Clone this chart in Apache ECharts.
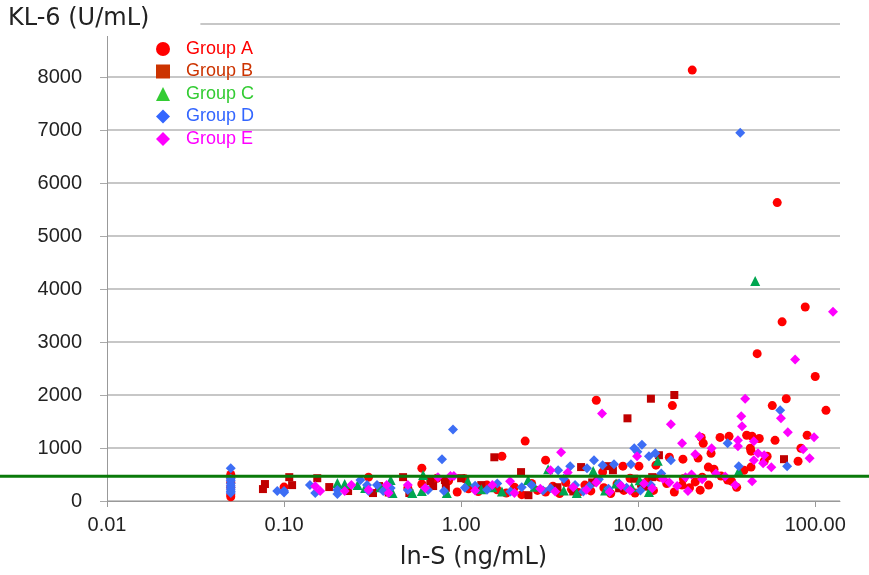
<!DOCTYPE html>
<html>
<head>
<meta charset="utf-8">
<script src="https://cdn.jsdelivr.net/npm/echarts@6/dist/echarts.min.js"></script>
<style>
  html, body { margin: 0; padding: 0; background: #fff; }
  #chart { width: 869px; height: 575px; }
</style>
</head>
<body>
<div id="chart"></div>
<script>
// x = ln-S (ng/mL), y = KL-6 (U/mL)
const groupNames = ['Group A', 'Group B', 'Group C', 'Group D', 'Group E']

const groupA = [
  [20.2, 8130], [61, 5630], [87.8, 3660], [65, 3380], [47, 2780], [100, 2350], [115, 1710],
  [68.6, 1930], [57.2, 1800], [90, 1240], [59.3, 1145], [83, 995], [80, 750],
  [5.8, 1900], [15.6, 1800], [2.3, 1130], [1.7, 845], [3.0, 770],
  [22.7, 1200], [23.3, 1090], [29, 1200], [32.6, 1220], [41, 1240], [44, 1220], [48.3, 1180],
  [43, 995], [43.4, 940], [53.5, 845], [51.5, 750], [43.4, 640], [39.6, 580],
  [25.8, 900], [24.9, 640], [26.8, 600], [29.4, 470], [32, 395], [33.7, 375], [22.4, 205],
  [17.7, 300], [17.9, 790], [21.8, 810], [15, 826], [12.6, 676], [10.1, 657], [8.2, 657], [6.3, 545],
  [0.6, 620], [0.73, 430], [0.3, 450], [0.5, 244], [0.6, 320], [0.1, 263],
  [0.05, 500], [0.05, 440], [0.05, 350], [0.05, 260], [0.05, 120], [0.05, 80],
  [1.1, 230], [1.25, 180], [1.4, 300], [1.6, 210], [1.8, 150], [2.0, 260], [2.2, 120],
  [2.5, 330], [2.7, 200], [3.0, 170], [3.3, 280], [3.6, 140], [3.9, 350], [4.2, 220],
  [4.6, 160], [5.0, 300], [5.4, 190], [5.9, 400], [6.4, 250], [7.0, 140], [7.6, 320],
  [8.3, 200], [9.0, 430], [9.6, 150], [10.5, 280], [11.3, 380], [12.2, 200], [13.2, 450],
  [14.5, 330], [16, 170], [18, 420], [19.5, 250], [21, 360], [23, 450], [25, 300], [36, 260],
  [0.85, 380], [0.95, 170], [1.05, 420]
]

const groupB = [
  [11.8, 1930], [16, 2000], [8.7, 1560], [1.54, 825], [2.18, 545], [0.81, 395],
  [0.076, 225], [0.078, 320], [0.107, 450], [0.111, 300], [0.154, 430], [0.18, 263],
  [0.23, 188], [0.318, 150], [0.344, 282], [0.47, 450], [0.51, 150], [0.67, 375], [0.695, 282],
  [4.76, 640], [6.77, 657], [7.2, 580], [13.1, 864], [66.6, 789],
  [0.38, 200], [1.3, 300], [2.4, 110], [3.5, 260], [4.3, 180], [5.5, 350], [7.8, 240],
  [9.5, 420], [10.4, 330], [11, 270], [1.0, 430], [0.82, 250], [0.39, 160], [12, 450]
]

const groupC = [
  [45.8, 4150], [12.9, 760], [3.1, 600], [5.57, 565], [37, 565],
  [0.2, 338], [0.22, 320], [0.287, 244], [0.40, 394], [0.41, 150], [0.53, 150],
  [0.61, 490], [0.6, 190], [0.83, 150], [1.09, 375], [2.39, 394],
  [1.3, 220], [1.7, 180], [2.6, 270], [3.8, 200], [4.5, 150], [6.5, 200], [7.5, 330],
  [9.2, 260], [11.5, 170], [10.2, 390], [0.26, 300], [0.35, 260], [1.5, 260]
]

const groupD = [
  [37.7, 6950], [0.9, 1350], [0.78, 790], [63.4, 1710], [32, 1089], [69.4, 657], [37, 657],
  [9.5, 995], [10.5, 1060], [9.9, 930], [11.5, 845], [12.5, 900], [15.3, 770],
  [5.63, 770], [4.13, 657], [3.53, 582], [6.3, 676], [7.3, 695], [9.1, 695], [5.14, 620],
  [0.05, 620], [0.05, 420], [0.05, 380], [0.05, 330], [0.05, 290], [0.05, 250],
  [0.05, 210], [0.05, 180], [0.05, 150],
  [0.0915, 188], [0.1, 188], [0.1, 160], [0.14, 300], [0.15, 150], [0.2, 207], [0.2, 130],
  [0.27, 394], [0.294, 300], [0.3, 190], [0.335, 300], [0.363, 188], [0.40, 244],
  [0.5, 207], [0.65, 207], [0.8, 188],
  [1.2, 290], [1.05, 250], [1.4, 210], [1.6, 330], [1.9, 180], [2.2, 260], [2.5, 300],
  [2.9, 200], [3.2, 240], [3.8, 420], [4.4, 300], [4.9, 180], [5.3, 280], [6.0, 410],
  [6.8, 230], [7.8, 330], [8.6, 250], [10.3, 200], [11.8, 300], [13.5, 520]
]

const groupE = [
  [126, 3570], [77, 2670], [64, 1560], [38.2, 1600], [38.6, 1410], [40.2, 1930],
  [70, 1296], [85.5, 977], [98.5, 1202], [93, 808],
  [6.25, 1650], [15.3, 1450], [17.7, 1090], [22.2, 1220], [26, 995],
  [36.6, 1145], [36.6, 1035], [45, 1127], [47.5, 901], [51.5, 864], [45, 770],
  [50.8, 714], [56.5, 638], [44, 375], [35.3, 300],
  [3.67, 920], [0.87, 470], [0.91, 470], [1.89, 375], [21, 880], [19.1, 188], [16.6, 282],
  [0.15, 280], [0.16, 188], [0.22, 188], [0.24, 300], [0.38, 300], [0.39, 150],
  [0.626, 244], [0.74, 450], [9.86, 845], [3.2, 580], [4.0, 540],
  [1.2, 200], [1.5, 300], [2.0, 150], [2.8, 230], [3.4, 180], [4.3, 260], [5.1, 210],
  [5.8, 350], [6.9, 170], [8.0, 290], [9.0, 200], [10.8, 330], [12, 240], [13.8, 420],
  [15, 350], [18.5, 450], [20, 500], [23, 410], [27.5, 520], [31, 460], [0.5, 300], [0.3, 210]
]

const xTicks = [0.01, 0.1, 1, 10, 100]
const cutoff = 465

const groups = [
  { data: groupA, symbol: 'circle', size: 9, color: '#ff0000', legend: '#ff0000' },
  { data: groupB, symbol: 'rect', size: 8, color: '#c00000', legend: '#cc3300' },
  { data: groupC, symbol: 'triangle', size: 10, color: '#00a650', legend: '#33cc33' },
  { data: groupD, symbol: 'diamond', size: 10, color: '#3d6ef5', legend: '#3366ff' },
  { data: groupE, symbol: 'diamond', size: 10, color: '#ff00ff', legend: '#ff00ff' },
]

const chart = echarts.init(document.getElementById('chart'))

chart.setOption({
  animation: false,
  backgroundColor: '#fff',
  title: {
    text: 'KL-6 (U/mL)',
    left: 0,
    top: 0,
    padding: [7, 51, 5, 8],
    backgroundColor: '#fff',
    textStyle: { fontFamily: 'DejaVu Sans', fontSize: 24, fontWeight: 'normal', color: '#222' },
  },
  legend: {
    orient: 'vertical',
    left: 151,
    top: 35,
    itemWidth: 14,
    itemHeight: 14,
    itemGap: 4.5,
    data: groupNames.map((name, i) => ({
      name,
      icon: groups[i].symbol,
      itemStyle: { color: groups[i].legend },
      textStyle: { color: groups[i].legend },
    })),
    textStyle: { fontFamily: 'Liberation Sans', fontSize: 18, padding: [0, 0, 0, 11] },
  },
  grid: { left: 107, right: 29, top: 24, bottom: 72 },
  xAxis: {
    type: 'log',
    logBase: 10,
    min: 0.01,
    max: 138,
    name: 'ln-S (ng/mL)',
    nameLocation: 'middle',
    nameGap: 45,
    nameTextStyle: { fontFamily: 'DejaVu Sans', fontSize: 24, color: '#222' },
    axisLine: { lineStyle: { color: '#999', width: 1 } },
    axisTick: { customValues: xTicks, length: 6, lineStyle: { color: '#999' } },
    axisLabel: {
      customValues: xTicks,
      margin: 14,
      fontFamily: 'Liberation Sans',
      fontSize: 20,
      color: '#222',
      formatter: (v) => Number(v).toFixed(2),
    },
    splitLine: { show: false },
  },
  yAxis: {
    type: 'value',
    min: 0,
    max: 9000,
    interval: 1000,
    axisLine: { show: true, lineStyle: { color: '#999', width: 1 } },
    axisTick: { show: true, length: 7, lineStyle: { color: '#aaa' } },
    axisLabel: {
      margin: 25,
      fontFamily: 'Liberation Sans',
      fontSize: 20,
      color: '#222',
      formatter: (v) => (v === 9000 ? '' : String(v)),
    },
    splitLine: { lineStyle: { color: '#b4b4b4', width: 1.5 } },
  },
  series: groups.map((g, i) => ({
    name: groupNames[i],
    type: 'scatter',
    symbol: g.symbol,
    symbolSize: g.size,
    itemStyle: { color: g.color, opacity: 1 },
    data: g.data,
  })),
})

// cutoff line spans the full width of the picture
const yCut = chart.convertToPixel({ yAxisIndex: 0 }, cutoff)
chart.setOption({
  graphic: [{
    type: 'line',
    z: 10,
    shape: { x1: 0, y1: yCut, x2: 869, y2: yCut },
    style: { stroke: '#0a7a0a', lineWidth: 3 },
  }],
})
</script>
</body>
</html>
